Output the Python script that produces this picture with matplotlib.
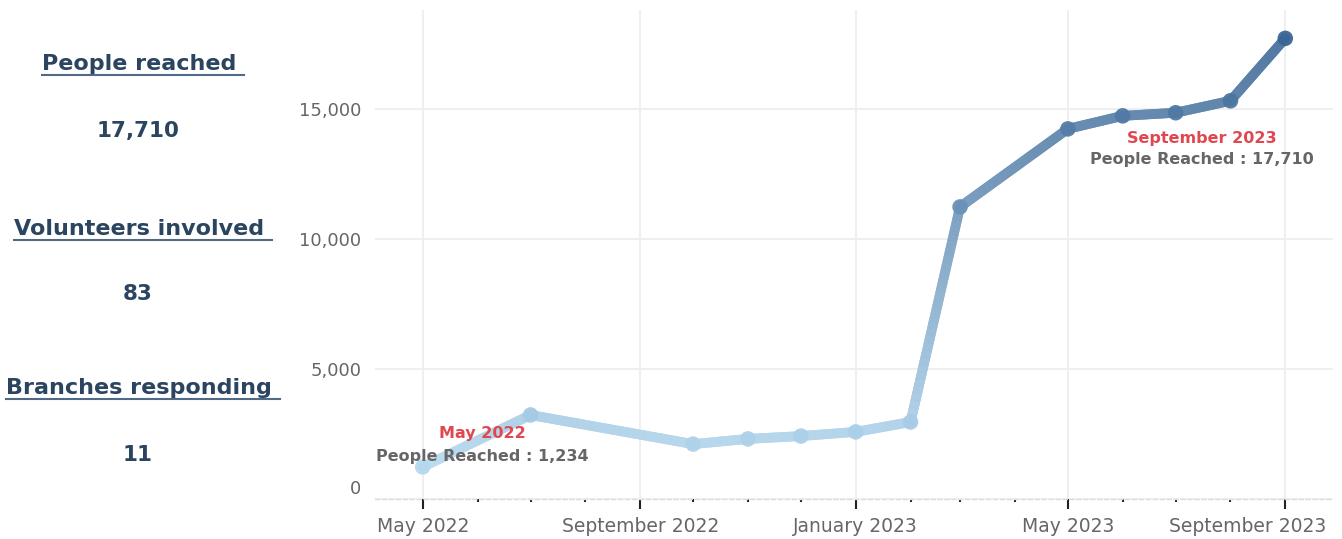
import numpy as np
import pandas as pd
import matplotlib
matplotlib.use('Agg')
import matplotlib.pyplot as plt
import matplotlib.dates as mdates
import matplotlib.transforms as mtrans
from matplotlib.collections import LineCollection
from matplotlib.colors import LinearSegmentedColormap, Normalize
from matplotlib.lines import Line2D
from matplotlib.ticker import FuncFormatter

plt.rcParams['font.family'] = ['DejaVu Sans']

# data
months = ['2022-05-01', '2022-07-01', '2022-10-01', '2022-11-01', '2022-12-01',
          '2023-01-01', '2023-02-01', '2023-03-01', '2023-05-01', '2023-06-01',
          '2023-07-01', '2023-08-01', '2023-09-01']
people = [1234, 3230, 2110, 2310, 2420, 2580, 2960, 11230, 14230, 14730, 14850, 15310, 17710]

kpi_titles = ['People reached', 'Volunteers involved', 'Branches responding']
kpi_values = ['17,710', '83', '11']

dates = pd.to_datetime(months)
navy = '#2b4560'
red = '#e0474f'
grey = '#666666'

fig = plt.figure(figsize=(13.42, 5.39), dpi=100)
ax = fig.add_axes([375/1342, 1-499/539, (1333-375)/1342, (499-10)/539])

cmap = LinearSegmentedColormap.from_list('blues', ['#b4d8ef', '#3a6594'])
norm = Normalize(min(people), max(people))

def washed(c):
    c = np.array(c, dtype=float)
    c[..., :3] = c[..., :3] * 0.88 + 0.12
    return c

# line with colour gradient following the value
xn = mdates.date2num(dates)
yv = np.array(people, dtype=float)
for i in range(len(xn) - 1):
    # plain underlay so the gradient pieces show no seams
    ax.plot(dates[i:i+2], people[i:i+2], color=washed(cmap(norm((yv[i] + yv[i+1]) / 2))),
            linewidth=7, solid_capstyle='round', solid_joinstyle='round', zorder=2)
    t = np.linspace(0, 1, 31)
    sx = xn[i] + (xn[i+1] - xn[i]) * t
    sy = yv[i] + (yv[i+1] - yv[i]) * t
    pts = np.column_stack([sx, sy]).reshape(-1, 1, 2)
    segs = np.concatenate([pts[:-1], pts[1:]], axis=1)
    lc = LineCollection(segs, colors=washed(cmap(norm((sy[:-1] + sy[1:]) / 2))),
                        linewidths=7, capstyle='butt', zorder=3)
    ax.add_collection(lc)
ax.scatter(dates, people, c=cmap(norm(yv)), s=125, zorder=4, alpha=0.95, edgecolors='none')

ax.set_xlim(pd.Timestamp('2022-04-04'), pd.Timestamp('2023-09-28'))
ax.set_ylim(0, 18800)
ax.set_yticks([0, 5000, 10000, 15000])
ax.yaxis.set_major_formatter(FuncFormatter(lambda v, p: f'{int(v):,}'))
ax.xaxis.set_major_locator(mdates.MonthLocator(bymonth=[1, 5, 9]))
ax.xaxis.set_minor_locator(mdates.MonthLocator())
ax.xaxis.set_major_formatter(mdates.DateFormatter('%B %Y'))

for s in ['top', 'right', 'left']:
    ax.spines[s].set_visible(False)
ax.spines['bottom'].set_color('#dddddd')
ax.spines['bottom'].set_linestyle((0, (3, 2)))
ax.spines['bottom'].set_linewidth(1)

ax.grid(True, which='major', color='#eeeeee', linewidth=1.3, zorder=0)
ax.set_axisbelow(True)
ax.tick_params(axis='y', length=0, labelsize=13, labelcolor=grey, pad=10)
ax.tick_params(axis='x', which='major', length=7, width=1.5, color='#222222',
               labelsize=13.5, labelcolor=grey, pad=6)
ax.tick_params(axis='x', which='minor', length=2, width=1.5, color='#222222')

fig.canvas.draw()
lab0 = ax.get_yticklabels()[0]
lab0.set_transform(lab0.get_transform() + mtrans.ScaledTranslation(0, 12/100, fig.dpi_scale_trans))
labx = ax.get_xticklabels()[-1]
labx.set_transform(labx.get_transform() + mtrans.ScaledTranslation(-38/100, 0, fig.dpi_scale_trans))

# annotations for first and last point
def note(i, dx, dy1, dy2, ha='center'):
    d = dates[i]
    ax.annotate(d.strftime('%B %Y'), (d, people[i]), xytext=(dx, dy1), textcoords='offset pixels',
                ha=ha, va='center', color=red, fontsize=11.5, fontweight='bold', zorder=5)
    ax.annotate(f'People Reached : {people[i]:,}', (d, people[i]), xytext=(dx, dy2),
                textcoords='offset pixels', ha=ha, va='center', color=grey,
                fontsize=11.5, fontweight='bold', zorder=5)

note(0, 60, 33, 10)
note(len(people) - 1, -83, -100, -121)

# left panel of key figures
title_y = [64, 229, 388]
value_y = [131, 294, 455]
for t, v, ty, vy in zip(kpi_titles, kpi_values, title_y, value_y):
    txt = fig.text(143/1342, 1 - ty/539, t + ' ', ha='center', va='center',
                   fontsize=16, fontweight='bold', color=navy)
    fig.text(138/1342, 1 - vy/539, v, ha='center', va='center',
             fontsize=15.5, fontweight='bold', color=navy)
    bb = txt.get_window_extent(renderer=fig.canvas.get_renderer())
    uy = (bb.y0 - 1) / fig.bbox.height
    fig.add_artist(Line2D([bb.x0 / fig.bbox.width, bb.x1 / fig.bbox.width], [uy, uy],
                          color='#506a85', linewidth=1.5, transform=fig.transFigure))

fig.savefig('out.png', dpi=100)
